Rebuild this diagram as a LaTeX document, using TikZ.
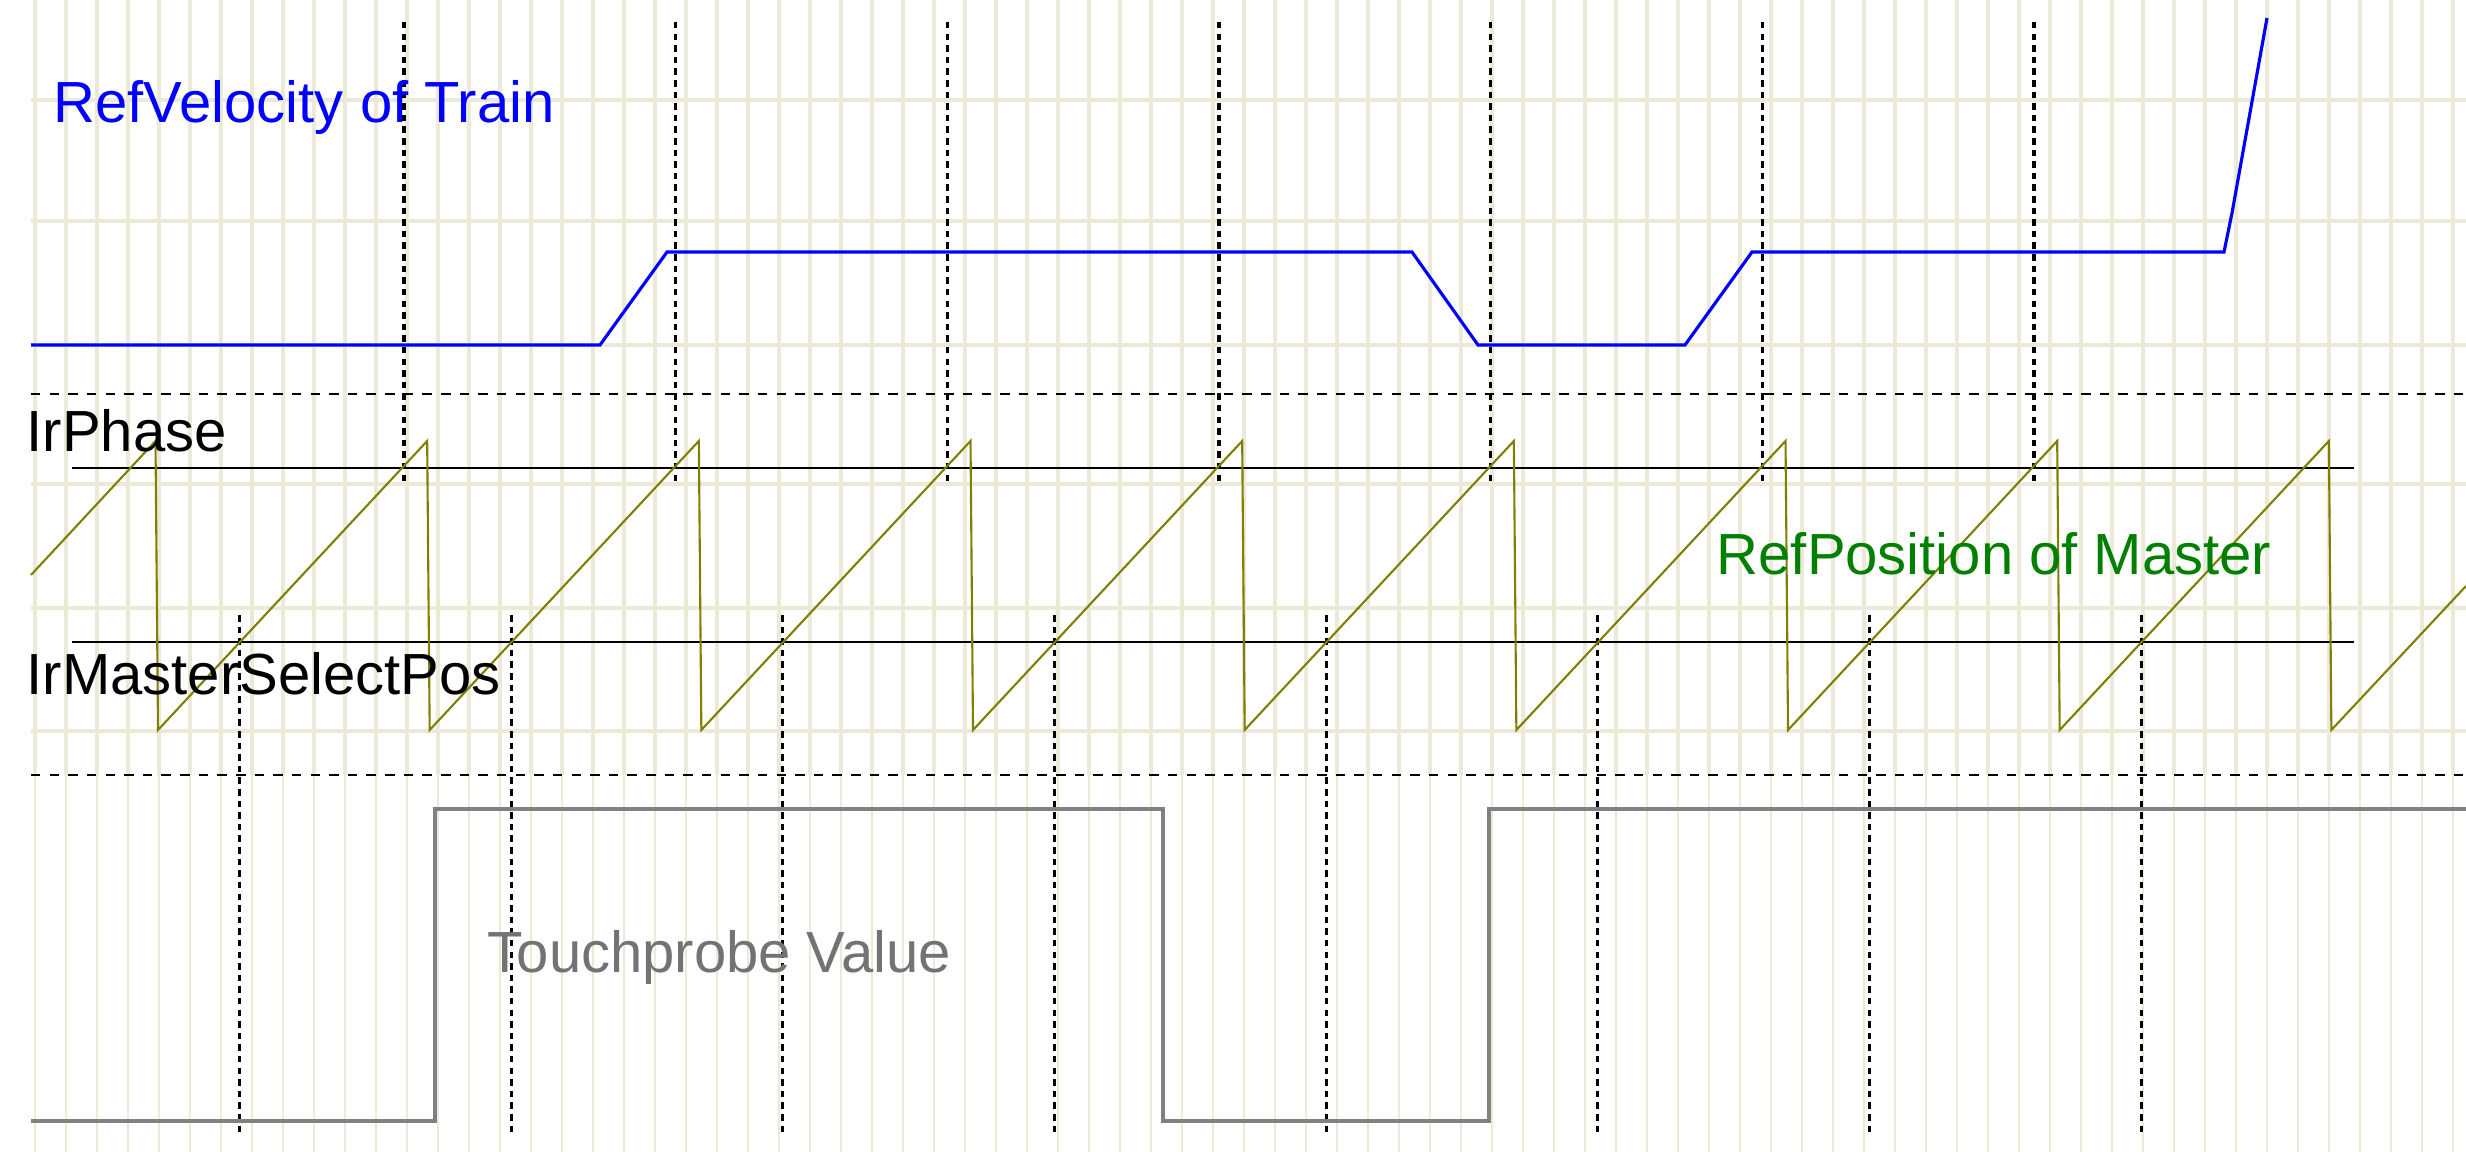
\documentclass[tikz,border=0pt]{standalone}
\usepackage{fontspec}
\setmainfont{Liberation Sans}
\usepackage{xcolor}
\usepackage{tikz}
\usetikzlibrary{calc}
\definecolor{gridbeige}{RGB}{236,233,216}
\definecolor{sawolive}{RGB}{128,128,0}
\definecolor{masterGreen}{RGB}{0,128,0}
\definecolor{probeGray}{RGB}{128,128,128}

\begin{document}
\begin{tikzpicture}[x=0.01cm,y=-0.01cm,
	gridline/.style={gridbeige,line width=0.9pt},
	gridthin/.style={gridbeige,line width=0.6pt},
	separator/.style={black,line width=0.8pt,dash pattern=on 2.7pt off 2.6pt},
	crossline/.style={black,line width=0.9pt,dash pattern=on 1.85pt off 1.45pt},
	levelline/.style={black,line width=0.85pt},
	siglabel/.style={font=\fontsize{16.5}{20}\selectfont,inner sep=0pt,anchor=base west}]
	\fill[white] (0,0) rectangle (2466,1152);
	\useasboundingbox (0,0) rectangle (2466,1152);

	% background grid
	\foreach \k in {0,...,78}{
		\draw[gridline] ({35+31*\k},0)--({35+31*\k},775);
		\draw[gridthin] ({35+31*\k},775)--({35+31*\k},1152);
	}
	\foreach \y in {100,221,345,484,608,731}
		\draw[gridline] (31,\y)--(2466,\y);

	% panel borders
	\draw[separator] (31,394)--(2466,394);
	\draw[separator] (31,775)--(2466,775);

	% phase crossings
	\foreach \k in {0,...,6}
		\draw[crossline] ({404+271.67*\k},22)--({404+271.67*\k},482);
	\foreach \k in {0,...,7}
		\draw[crossline] ({239.5+271.67*\k},615)--({239.5+271.67*\k},1135);

	% thresholds
	\coordinate [] (P1) at (72,468);
	\coordinate [] (P2) at (2354,468);
	\coordinate [] (S1) at (72,642);
	\coordinate [] (S2) at (2354,642);
	\draw[levelline] (P1)--(P2);
	\draw[levelline] (S1)--(S2);

	% velocity of train
	\draw[blue,line width=0.9pt] (31,345)--(600,345)--(667,252)--(1412,252)--(1478,345)
		--(1685,345)--(1752,252)--(2224,252)--(2232,213)--(2267,18);

	% master position (sawtooth)
	\draw[sawolive,line width=0.6pt] (31,575)
		\foreach \k in {0,...,8}{ --({155.5+271.67*\k},441)--({158+271.67*\k},730) }
		--(2466,586);

	% touchprobe
	\draw[probeGray,line width=0.9pt] (31,1121)--(435,1121)--(435,809)--(1163,809)
		--(1163,1121)--(1489,1121)--(1489,809)--(2466,809);

	\node [siglabel,text=blue] (velo) at (53,123) {RefVelocity of Train};
	\node [siglabel] (phase) at (26,452) {IrPhase};
	\node [siglabel] (select) at (26,695) {IrMasterSelectPos};
	\node [siglabel,text=masterGreen] (master) at (1716,575) {RefPosition of Master};
	\node [siglabel,text=probeGray!90!black] (probe) at (487,972) {Touchprobe Value};
\end{tikzpicture}
\end{document}
